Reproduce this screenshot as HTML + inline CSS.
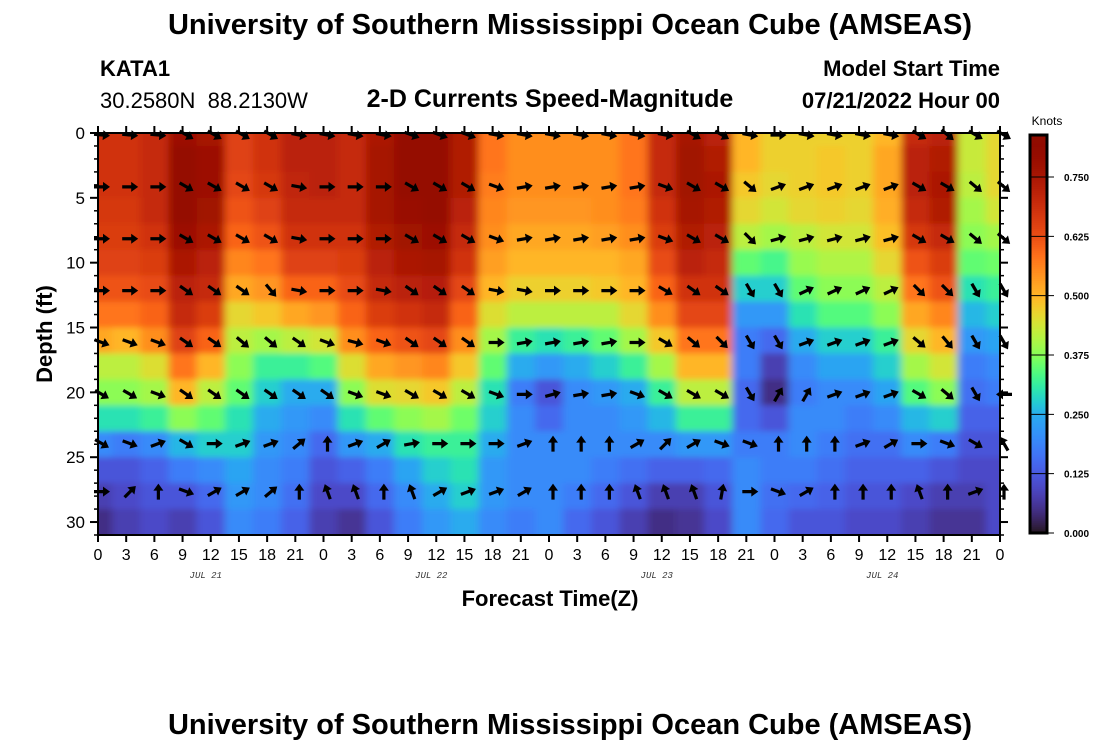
<!DOCTYPE html>
<html><head><meta charset="utf-8"><style>
body{margin:0;background:#fff;}
svg{display:block;font-family:"Liberation Sans",sans-serif;}
</style></head><body>
<svg id="chart" width="1100" height="750" viewBox="0 0 1100 750">
<defs>
<clipPath id="plotclip"><rect x="98" y="133" width="902" height="402"/></clipPath>
<filter id="soft" filterUnits="userSpaceOnUse" x="60" y="100" width="980" height="470"><feGaussianBlur stdDeviation="4 3"/></filter>
</defs>
<text x="570" y="34" text-anchor="middle" font-size="29" font-weight="bold">University of Southern Mississippi Ocean Cube (AMSEAS)</text>
<text x="100" y="76" font-size="22" font-weight="bold">KATA1</text>
<text x="100" y="108" font-size="22">30.2580N&#160;&#160;88.2130W</text>
<text x="550" y="107" text-anchor="middle" font-size="25" font-weight="bold">2-D Currents Speed-Magnitude</text>
<text x="1000" y="76" text-anchor="end" font-size="22" font-weight="bold">Model Start Time</text>
<text x="1000" y="108" text-anchor="end" font-size="22" font-weight="bold">07/21/2022 Hour 00</text>
<g clip-path="url(#plotclip)"><g id="heat" filter="url(#soft)"></g></g>
<g id="arrows"></g>
<rect x="98" y="133" width="902" height="402" fill="none" stroke="#000" stroke-width="2"/>
<g id="axes"></g>
<text transform="translate(52,334) rotate(-90)" text-anchor="middle" font-size="22" font-weight="bold">Depth (ft)</text>
<text x="550" y="606" text-anchor="middle" font-size="22" font-weight="bold">Forecast Time(Z)</text>
<g id="cbar"></g>
<text x="1047" y="125" text-anchor="middle" font-size="12">Knots</text>
<text x="570" y="734" text-anchor="middle" font-size="29" font-weight="bold">University of Southern Mississippi Ocean Cube (AMSEAS)</text>
</svg>
<script>
const hours=[0,3,6,9,12,15,18,21,24,27,30,33,36,39,42,45,48,51,54,57,60,63,66,69,72,75,78,81,84,87,90,93,96];
const depths=[0,2,4,6,8,10,12,14,16,18,20,22,24,26,28,30];
const speedByHour=[
[.68,.68,.68,.67,.66,.65,.62,.58,.52,.42,.38,.3,.2,.12,.08,.05],
[.68,.68,.68,.67,.66,.65,.62,.58,.5,.42,.38,.3,.18,.12,.1,.08],
[.7,.7,.7,.7,.68,.66,.63,.6,.55,.45,.4,.32,.2,.14,.12,.1],
[.78,.8,.8,.8,.78,.75,.72,.7,.65,.58,.5,.38,.26,.18,.12,.08],
[.76,.78,.78,.77,.75,.72,.7,.66,.6,.5,.42,.35,.28,.2,.15,.12],
[.65,.65,.64,.62,.6,.56,.52,.46,.42,.38,.35,.3,.28,.24,.22,.2],
[.68,.68,.67,.65,.62,.58,.54,.48,.4,.32,.28,.25,.22,.2,.2,.18],
[.72,.72,.71,.7,.68,.65,.6,.52,.42,.32,.25,.22,.2,.18,.16,.14],
[.72,.72,.72,.7,.68,.65,.6,.54,.44,.34,.25,.2,.15,.12,.1,.08],
[.7,.7,.7,.7,.68,.66,.63,.6,.55,.45,.38,.3,.22,.14,.1,.06],
[.75,.76,.76,.76,.74,.72,.7,.66,.6,.52,.45,.35,.25,.18,.15,.12],
[.8,.8,.8,.79,.77,.75,.72,.68,.62,.54,.46,.38,.3,.24,.2,.18],
[.8,.8,.8,.8,.78,.76,.73,.7,.64,.56,.48,.4,.32,.28,.25,.22],
[.74,.74,.74,.72,.7,.68,.64,.6,.55,.48,.42,.36,.32,.3,.28,.25],
[.58,.58,.57,.56,.55,.53,.5,.45,.4,.35,.3,.28,.25,.22,.22,.2],
[.55,.55,.55,.54,.52,.5,.47,.42,.32,.25,.18,.2,.2,.2,.2,.18],
[.55,.55,.55,.54,.52,.5,.47,.42,.3,.22,.12,.15,.2,.2,.2,.2],
[.55,.55,.55,.54,.52,.5,.47,.42,.32,.25,.2,.2,.2,.2,.18,.15],
[.55,.55,.55,.55,.53,.5,.48,.42,.35,.28,.22,.2,.2,.18,.15,.12],
[.58,.58,.58,.57,.55,.52,.5,.46,.4,.32,.25,.22,.2,.16,.12,.08],
[.7,.7,.7,.68,.66,.63,.6,.55,.48,.4,.32,.26,.2,.14,.08,.05],
[.76,.77,.77,.76,.74,.72,.68,.64,.58,.5,.42,.32,.22,.14,.08,.06],
[.72,.74,.75,.74,.72,.7,.68,.64,.58,.5,.42,.32,.22,.15,.12,.1],
[.5,.5,.48,.46,.42,.35,.28,.22,.18,.18,.15,.15,.18,.2,.2,.2],
[.47,.47,.46,.44,.4,.33,.28,.22,.15,.08,.05,.12,.18,.18,.16,.15],
[.47,.47,.47,.46,.42,.39,.35,.3,.25,.2,.18,.2,.2,.18,.15,.12],
[.47,.48,.48,.47,.44,.41,.38,.34,.28,.24,.2,.2,.18,.16,.14,.12],
[.47,.47,.47,.46,.44,.41,.38,.34,.28,.24,.2,.18,.16,.14,.12,.1],
[.5,.52,.52,.51,.49,.46,.42,.38,.32,.28,.24,.2,.16,.14,.12,.1],
[.7,.72,.72,.7,.67,.62,.58,.52,.46,.4,.34,.26,.2,.14,.1,.08],
[.72,.74,.75,.74,.7,.66,.62,.56,.5,.44,.38,.28,.18,.12,.08,.06],
[.43,.43,.42,.4,.38,.35,.3,.26,.22,.18,.16,.14,.12,.1,.08,.06],
[.46,.46,.46,.44,.4,.36,.32,.28,.24,.2,.18,.14,.12,.1,.1,.1]];
const arrowDepths=[0,4,8,12,16,20,23.8,27.5];
const arrowAngles=[
[5,5,5,30,30,30,30,10,10,10,10,20,20,20,10,10,10,10,10,10,10,30,30,10,0,10,10,10,10,30,40,30,30],
[0,0,0,30,30,30,30,10,0,0,0,30,30,30,20,-10,-10,-10,-10,-10,20,30,30,40,-20,-20,-20,-20,-20,30,30,40,40],
[0,0,0,30,30,30,30,10,0,0,0,30,30,30,20,-10,-10,-10,-10,-10,20,30,30,45,-15,-15,-15,-15,-15,30,30,40,40],
[0,0,0,35,35,35,50,10,0,0,10,35,35,35,10,10,0,0,0,0,30,35,35,60,60,-25,-25,-25,-25,45,45,60,60],
[20,20,20,35,35,40,40,35,20,15,20,35,35,35,0,-10,-10,-10,-10,0,30,40,45,60,60,-20,-20,-20,-20,40,50,60,60],
[30,30,20,35,35,35,35,35,35,20,20,30,30,30,20,0,-15,-10,-10,20,30,30,30,60,-60,-60,-20,-20,-20,30,40,60,180],
[30,20,-20,30,0,-20,-20,-40,-90,-20,-30,-10,0,0,0,-20,-90,-90,-90,-30,-45,-30,20,20,-90,-90,-90,-20,-30,0,20,30,-120],
[0,-45,-90,20,-30,-30,-40,-90,-110,-110,-90,-110,-30,-20,-20,-30,-90,-90,-90,-110,-110,-110,-80,0,20,-30,-90,-90,-90,-110,-90,-20,-90]];
const cbarTicks=[0,0.125,0.25,0.375,0.5,0.625,0.75];
const NS='http://www.w3.org/2000/svg';
const X0=98,X1=1000,Y0=133,Y1=535;
const xs=h=>X0+(X1-X0)*h/96;
const ys=d=>Y0+d*(Y1-Y0)/31;
function el(t,a,p){const e=document.createElementNS(NS,t);for(const k in a)e.setAttribute(k,a[k]);p.appendChild(e);return e;}
function turbo(t){t=Math.max(0,Math.min(1,t));
const r=0.13572138+t*(4.61539260+t*(-42.66032258+t*(132.13108234+t*(-152.94239396+t*59.28637943))));
const g=0.09140261+t*(2.19418839+t*(4.84296658+t*(-14.18503333+t*(4.27729857+t*2.82956604))));
const b=0.10667330+t*(12.64194608+t*(-60.58204836+t*(110.36276771+t*(-89.90310912+t*27.34824973))));
const c=v=>Math.round(255*Math.max(0,Math.min(1,v)));return `rgb(${c(r)},${c(g)},${c(b)})`;}
const vk=[0,0.125,0.25,0.375,0.5,0.625,0.75,0.84],tk=[0,0.1,0.22,0.48,0.67,0.82,0.92,1];
function color(v){for(let i=1;i<vk.length;i++){if(v<=vk[i]){const f=(v-vk[i-1])/(vk[i]-vk[i-1]);return turbo(tk[i-1]+f*(tk[i]-tk[i-1]));}}return turbo(1);}
const heat=document.getElementById('heat');
hours.forEach((h,i)=>{depths.forEach((d,j)=>{
 const x0=xs(h-1.5)-(i===0?20:0),x1=xs(h+1.5)+(i===hours.length-1?20:0);
 const y0=ys(d-1)-(j===0?20:0),y1=ys(d+1)+(j===depths.length-1?20:0);
 const r=el('rect',{x:x0,y:y0,width:x1-x0+0.6,height:y1-y0+0.6,fill:color(speedByHour[i][j])},heat);
 
 
});});
const ag=document.getElementById('arrows');
arrowDepths.forEach((d,r)=>{hours.forEach((h,i)=>{
 const a=arrowAngles[r][i];const cx=xs(h)+4,cy=ys(d)+2;
 const g=el('g',{transform:`translate(${cx},${cy}) rotate(${a})`},ag);
 
 
 el('path',{d:'M-8,-1.6 L1,-1.6 L1,-5 L8,0 L1,5 L1,1.6 L-8,1.6 Z',fill:'#000'},g);
});});
const ax=document.getElementById('axes');
for(let h=0;h<=96;h+=3){const x=xs(h);
 el('line',{x1:x,y1:Y1,x2:x,y2:Y1+7,stroke:'#000','stroke-width':2},ax);
 el('line',{x1:x,y1:Y0,x2:x,y2:Y0-7,stroke:'#000','stroke-width':2},ax);
 const t=el('text',{x:x,y:560,'text-anchor':'middle','font-size':16},ax);t.textContent=String(h%24);
 
 }
const dayLabels=['JUL 21','JUL 22','JUL 23','JUL 24'];
dayLabels.forEach((s,i)=>{const t=el('text',{x:xs(12+24*i)-5,y:578,'text-anchor':'middle','font-size':9,'font-style':'italic','font-family':'Liberation Mono, monospace',fill:'#333'},ax);t.textContent=s;
 
 });
for(let d=0;d<=31;d++){const y=ys(d);const big=d%5===0;
 el('line',{x1:X0,y1:y,x2:X0-(big?8:4),y2:y,stroke:'#000','stroke-width':big?2:1.5},ax);
 el('line',{x1:X1,y1:y,x2:X1+(big?8:4),y2:y,stroke:'#000','stroke-width':big?2:1.5},ax);
 if(big&&d<=30){const t=el('text',{x:85,y:y+6,'text-anchor':'end','font-size':17},ax);t.textContent=d;
 
 }}
const cb=document.getElementById('cbar');const CX=1030,CW=17,CY0=135,CY1=533;
const cy=v=>CY1-(v/0.75)*(CY1-177);
for(let y=CY0;y<CY1;y+=2){const v=(CY1-y)/(CY1-177)*0.75;el('rect',{x:CX,y:y-0.2,width:CW,height:2.4,fill:color(v)},cb);}
el('rect',{x:CX,y:CY0,width:CW,height:CY1-CY0,fill:'none',stroke:'#000','stroke-width':3},cb);
cbarTicks.forEach(v=>{const y=cy(v);el('line',{x1:CX,y1:y,x2:CX+CW+7,y2:y,stroke:'#000','stroke-width':1},cb);
 const t=el('text',{x:1064,y:y+4,'font-size':10,'font-weight':'bold'},cb);t.textContent=v.toFixed(3);
 
 });
</script>
</body></html>
